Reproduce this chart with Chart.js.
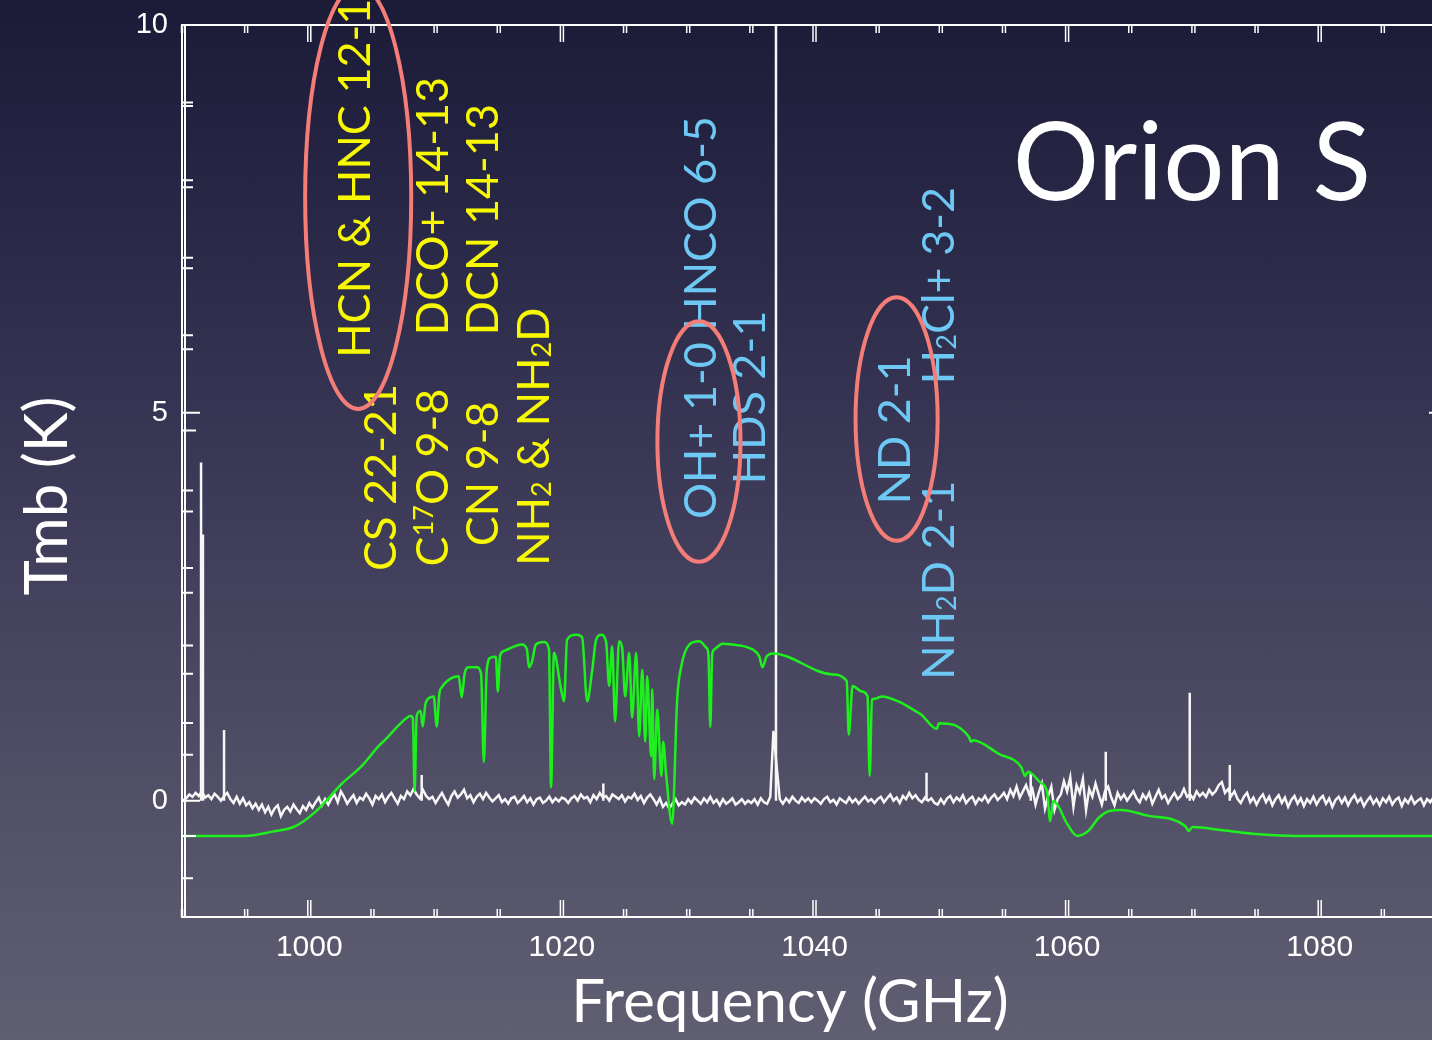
<!DOCTYPE html>
<html>
<head>
<meta charset="utf-8">
<script src="https://cdn.jsdelivr.net/npm/chart.js@4.4.1/dist/chart.umd.min.js"></script>
<style>
html, body {
    margin: 0; padding: 0; overflow: hidden;
    width: 1432px; height: 1040px;
    background: linear-gradient(180deg, #1b1a37 0%, #2b2a49 25%, #3e3c59 50%, #514f66 75%, #605e71 100%);
}
canvas { display: block; }
</style>
</head>
<body>
<canvas id="spec" width="1459" height="1040"></canvas>
<script>
// -----------------------------
// white spectrum (Tmb, K), channels of 0.25 GHz starting 989.75 GHz
// -----------------------------
const chanStart = 989.75;
const chanWidth = 0.25;
const specTmb = [
    0.02, 0.0, 0.03, 0.08, 0.05, 0.1, 0.06, 0.12, 0.04, 0.07, 0.02, 0.09, 0.05, 0.0, 0.06, 0.1, 0.02, -0.03, 0.05, -0.04,
    0.03, -0.06, -0.02, -0.1, -0.04, -0.12, -0.05, -0.15, -0.08, -0.18, -0.1, -0.06, -0.2, -0.12, -0.08, -0.14, -0.05, -0.11, -0.16, -0.07,
    -0.12, -0.03, -0.09, -0.02, 0.04, -0.06, 0.02, -0.05, 0.03, 0.08, -0.02, 0.12, 0.05, -0.04, 0.02, 0.07, -0.03, 0.04, 0.01, 0.09,
    0.03, -0.05, 0.06, 0.02, 0.08, -0.02, 0.05, 0.1, 0.03, -0.04, 0.06, 0.02, 0.12, 0.07, 0.15, 0.08, 0.03, 0.14, 0.06, 0.02,
    0.05, -0.03, 0.04, 0.1, 0.02, -0.05, 0.06, 0.12, 0.04, 0.08, 0.14, 0.03, 0.07, -0.02, 0.05, 0.09, 0.02, 0.1, 0.04, -0.01,
    0.03, 0.07, -0.02, 0.02, -0.04, 0.03, 0.05, -0.03, 0.01, 0.06, -0.02, 0.03, -0.05, 0.02, 0.04, -0.03, 0.0, 0.05, -0.02, 0.03,
    -0.01, 0.04, 0.02, -0.03, 0.03, 0.06, 0.0, 0.08, 0.03, 0.05, -0.02, 0.07, 0.02, 0.1, 0.04, 0.06, 0.0, 0.08, 0.05, 0.02,
    0.07, -0.01, 0.05, 0.03, 0.09, 0.01, 0.06, -0.03, 0.04, 0.08, 0.02, -0.05, 0.03, -0.08, -0.03, -0.1, -0.04, 0.02, -0.06, -0.02,
    -0.05, 0.02, -0.03, 0.04, 0.0, -0.04, 0.03, -0.02, 0.05, -0.03, 0.01, -0.06, 0.02, -0.04, -0.01, 0.03, -0.05, -0.02, 0.02, -0.04,
    0.0, -0.03, 0.02, -0.05, 0.03, -0.02, -0.04, 0.05, 0.9, 0.45, 0.02, -0.04, 0.03, -0.02, 0.05, 0.0, -0.03, 0.04, -0.01, 0.03,
    -0.02, 0.03, 0.0, -0.04, 0.02, 0.05, -0.02, 0.01, -0.05, 0.03, 0.0, -0.03, 0.04, -0.02, 0.02, -0.04, 0.01, 0.05, -0.01, 0.02,
    -0.03, 0.02, 0.05, -0.02, 0.03, 0.08, 0.0, 0.04, -0.03, 0.06, 0.02, 0.1, 0.03, 0.07, 0.01, -0.02, 0.04, 0.0, 0.03, -0.03,
    -0.05, 0.02, -0.04, 0.03, 0.06, -0.02, 0.04, 0.0, 0.07, -0.03, 0.02, 0.05, -0.04, 0.03, 0.0, 0.06, -0.02, 0.04, 0.08, 0.01,
    0.05, 0.1, 0.02, 0.14, 0.06, 0.18, 0.04, 0.12, 0.2, 0.08, 0.15, -0.05, 0.1, 0.22, -0.1, 0.06, 0.18, -0.12, 0.02, 0.08,
    0.25, 0.12, 0.3, -0.08, 0.2, 0.1, 0.28, -0.12, 0.15, 0.05, 0.22, 0.08, -0.05, 0.12, 0.18, 0.04, -0.06, 0.1, 0.02, 0.08,
    0.0, 0.06, 0.12, 0.03, -0.02, 0.08, 0.02, 0.1, -0.04, 0.05, 0.14, 0.03, 0.07, -0.03, 0.04, 0.1, 0.02, 0.06, 0.15, 0.05,
    0.08, 0.02, 0.12, 0.06, 0.1, 0.05, 0.14, 0.08, 0.12, 0.2, 0.24, 0.1, 0.15, 0.06, 0.12, 0.02, -0.03, 0.05, 0.1, -0.02,
    0.04, -0.05, 0.03, 0.08, -0.02, 0.05, -0.06, 0.02, 0.07, -0.03, 0.04, -0.08, 0.01, 0.06, -0.04, 0.03, -0.07, 0.02, -0.03, 0.05,
    -0.05, 0.02, 0.06, -0.04, 0.03, -0.08, 0.01, 0.05, -0.03, 0.04, -0.06, 0.02, 0.07, -0.02, 0.03, -0.07, 0.0, 0.05, -0.04, 0.02,
    -0.06, 0.03, -0.02, 0.05, -0.05, 0.01, 0.04, -0.07, 0.02, -0.03, 0.05, -0.04, 0.0, 0.03, -0.06, 0.02, -0.02, 0.04, -0.05, 0.01
];

// narrow emission lines (GHz / peak K)
const lineFreq = [991.43, 991.58, 993.25, 1008.9, 1023.28, 1036.95, 1048.87, 1057.12, 1063.06, 1069.71, 1072.88];
const linePeak = [4.36, 3.43, 0.91, 0.33, 0.22, 12, 0.36, 0.36, 0.63, 1.39, 0.46];

// -----------------------------
// atmospheric transmission (green)
// -----------------------------
const transFreq = [
    990, 994.93, 997.0, 998.9, 1000.5, 1001.5, 1002.55, 1004.14, 1005.5, 1006.04,
    1007.31, 1008.02, 1008.2, 1008.34, 1008.5, 1008.82, 1008.98, 1009.2, 1009.61, 1009.85,
    1010.09, 1010.3, 1010.48, 1011.83, 1012.07, 1012.3, 1012.63, 1013.26, 1013.6, 1013.82,
    1014.05, 1014.37, 1014.77, 1014.93, 1015.1, 1015.4, 1016.83, 1017.23, 1017.39, 1017.63,
    1017.94, 1018.58, 1018.98, 1019.14, 1019.37, 1019.93, 1020.17, 1020.41, 1021.12, 1021.6,
    1022.0, 1022.39, 1022.71, 1023.1, 1023.5, 1023.74, 1023.98, 1024.21, 1024.53, 1024.77,
    1025.01, 1025.33, 1025.56, 1025.88, 1026.12, 1026.36, 1026.6, 1026.75, 1027.07, 1027.15,
    1027.31, 1027.55, 1027.87, 1028.02, 1028.26, 1028.73, 1029.13, 1029.45, 1030.09, 1030.88,
    1031.44, 1031.6, 1031.75, 1031.9, 1032.07, 1032.71, 1033.5, 1035.09, 1035.64, 1035.88,
    1036.2, 1036.67, 1041.44, 1042.55, 1042.71, 1043.02, 1043.74, 1044.2, 1044.37, 1044.55,
    1044.77, 1045.33, 1046.75, 1048.1, 1048.42, 1049.69, 1049.85, 1052.23, 1052.39, 1052.55,
    1054.61, 1056.36, 1056.67, 1056.91, 1057.87, 1058.42, 1058.66, 1058.9, 1059.29, 1059.93,
    1060.8, 1061.67, 1062.55, 1063.42, 1064.29, 1066.36, 1069.37, 1069.61, 1069.93, 1072.31,
    1075.25, 1078.18, 1090
];
const transVal = [
    0, 0, 0.005, 0.012, 0.030, 0.046, 0.064, 0.086, 0.111, 0.119,
    0.140, 0.148, 0.145, 0.055, 0.148, 0.154, 0.135, 0.163, 0.171, 0.172,
    0.135, 0.176, 0.183, 0.197, 0.171, 0.200, 0.208, 0.208, 0.200, 0.091,
    0.205, 0.220, 0.221, 0.178, 0.222, 0.228, 0.236, 0.230, 0.208, 0.215,
    0.236, 0.239, 0.230, 0.060, 0.226, 0.181, 0.166, 0.242, 0.248, 0.245,
    0.166, 0.203, 0.242, 0.248, 0.239, 0.185, 0.234, 0.141, 0.240, 0.232,
    0.172, 0.226, 0.146, 0.226, 0.123, 0.205, 0.116, 0.197, 0.098, 0.181,
    0.070, 0.156, 0.074, 0.116, 0.074, 0.015, 0.169, 0.209, 0.236, 0.240,
    0.232, 0.224, 0.134, 0.224, 0.230, 0.237, 0.236, 0.230, 0.221, 0.208,
    0.221, 0.225, 0.199, 0.191, 0.125, 0.185, 0.178, 0.172, 0.074, 0.168,
    0.169, 0.172, 0.165, 0.153, 0.150, 0.132, 0.139, 0.122, 0.116, 0.118,
    0.101, 0.085, 0.074, 0.079, 0.066, 0.054, 0.018, 0.043, 0.037, 0.017,
    0.000, 0.006, 0.023, 0.031, 0.032, 0.025, 0.012, 0.006, 0.011, 0.007,
    0.002, 0, 0
];

// -----------------------------
// line identifications (anchor = start of the rotated text, GHz / K)
// -----------------------------
const yellowText = ["HCN & HNC 12-11", "CS 22-21", "C^17O 9-8", "DCO+ 14-13", "CN 9-8", "DCN 14-13", "NH_2 & NH_2D"];
const yellowFreq = [1003.55, 1005.61, 1009.73, 1009.73, 1013.69, 1013.69, 1017.73];
const yellowTmb  = [5.71, 2.96, 3.02, 6.0, 3.28, 6.0, 3.03];

const blueText = ["OH+ 1-0 HNCO 6-5", "HDS 2-1", "ND 2-1", "NH_2D 2-1", "H_2Cl+ 3-2"];
const blueFreq = [1030.89, 1034.77, 1046.26, 1049.75, 1049.75];
const blueTmb  = [3.63, 4.08, 3.82, 1.56, 5.37];

// circled lines: centre GHz / K, half widths GHz / K
const ringFreq = [1003.87, 1030.85, 1046.5];
const ringTmb  = [7.78, 4.63, 4.92];
const ringHalfFreq = [4.2, 3.29, 3.25];
const ringHalfTmb  = [2.73, 1.55, 1.57];

const sourceName = "Orion S";
const sourceFreq = 1055.69;
const sourceTmb = 7.75;

const xTitle = "Frequency (GHz)";
const yTitle = "Tmb (K)";

// -----------------------------
// datasets
// -----------------------------
const specPoints = specTmb.map((v, i) => ({ x: chanStart + i * chanWidth, y: v }));

const linePoints = [];
lineFreq.forEach((f, i) => {
    linePoints.push({ x: f, y: 0 });
    linePoints.push({ x: f, y: linePeak[i] });
    linePoints.push({ x: f, y: null });
});

const transPoints = transFreq.map((f, i) => ({ x: f, y: transVal[i] }));

// -----------------------------
// frame + inward ticks
// -----------------------------
const framePlugin = {
    id: "frame",
    afterDatasetsDraw(chart) {
        const { ctx, chartArea: a, scales } = chart;
        const x = scales.x, y = scales.y, y2 = scales.y2;
        ctx.save();
        ctx.strokeStyle = "#ffffff";
        ctx.lineWidth = 2;
        ctx.beginPath();
        ctx.moveTo(a.left - 2, a.top); ctx.lineTo(a.right, a.top);
        ctx.moveTo(a.left - 2, a.bottom); ctx.lineTo(a.right, a.bottom);
        ctx.moveTo(a.left - 1, a.top); ctx.lineTo(a.left - 1, a.bottom);
        ctx.moveTo(a.left + 2, a.top); ctx.lineTo(a.left + 2, a.bottom);
        ctx.moveTo(a.right, a.top); ctx.lineTo(a.right, a.bottom);
        ctx.stroke();

        // x ticks, bottom and top
        ctx.lineWidth = 1.5;
        ctx.beginPath();
        x.ticks.forEach(t => {
            const v = Math.round(t.value * 100) / 100;
            if (v % 5 !== 0) return;
            const px = x.getPixelForValue(v);
            const len = v % 20 === 0 ? 17 : 8;
            [-1.5, 1.5].forEach(dx => {
                ctx.moveTo(px + dx, a.bottom); ctx.lineTo(px + dx, a.bottom - len);
                ctx.moveTo(px + dx, a.top); ctx.lineTo(px + dx, a.top + len);
            });
        });
        ctx.stroke();

        // Tmb ticks
        ctx.lineWidth = 2;
        ctx.beginPath();
        y.ticks.forEach(t => {
            if (!Number.isInteger(t.value)) return;
            const py = y.getPixelForValue(t.value);
            const len = t.value % 5 === 0 ? 17 : 10;
            ctx.moveTo(a.left, py); ctx.lineTo(a.left + len, py);
            ctx.moveTo(a.right, py); ctx.lineTo(a.right - len, py);
        });
        // transmission ticks (every 0.1)
        for (let k = 0; k <= 10; k++) {
            const py = y2.getPixelForValue(k / 10);
            const len = k % 5 === 0 ? 13 : 10;
            ctx.moveTo(a.left, py); ctx.lineTo(a.left + len, py);
            ctx.moveTo(a.right, py); ctx.lineTo(a.right - len, py);
        }
        ctx.stroke();
        ctx.restore();
    }
};

// -----------------------------
// text with ^sup and _sub
// -----------------------------
function drawRich(ctx, text, size) {
    const parts = text.split(/(\^\d+|_\d+)/).filter(s => s.length);
    let cx = 0;
    parts.forEach(p => {
        let s = p, fs = size, dy = 0;
        if (p[0] === "^") { s = p.slice(1); fs = size * 0.6; dy = -size * 0.34; }
        else if (p[0] === "_") { s = p.slice(1); fs = size * 0.6; dy = size * 0.04; }
        ctx.font = fs + "px Lato";
        ctx.fillText(s, cx, dy);
        cx += ctx.measureText(s).width;
    });
}

const notePlugin = {
    id: "notes",
    afterDraw(chart) {
        const { ctx, scales } = chart;
        const x = scales.x, y = scales.y;
        const size = 45;
        const capH = size * 0.72;
        ctx.save();
        ctx.textAlign = "left";
        ctx.textBaseline = "alphabetic";

        const drawSet = (texts, freqs, tmbs, color) => {
            ctx.fillStyle = color;
            texts.forEach((t, i) => {
                ctx.save();
                ctx.translate(x.getPixelForValue(freqs[i]) + capH / 2, y.getPixelForValue(tmbs[i]));
                ctx.rotate(-Math.PI / 2);
                drawRich(ctx, t, size);
                ctx.restore();
            });
        };
        drawSet(yellowText, yellowFreq, yellowTmb, "#f8f800");
        drawSet(blueText, blueFreq, blueTmb, "#6ec8f4");

        // red rings
        ctx.strokeStyle = "#f47d78";
        ctx.lineWidth = 4;
        ringFreq.forEach((f, i) => {
            const cx = x.getPixelForValue(f);
            const cy = y.getPixelForValue(ringTmb[i]);
            const rx = Math.abs(x.getPixelForValue(f + ringHalfFreq[i]) - cx);
            const ry = Math.abs(y.getPixelForValue(ringTmb[i] + ringHalfTmb[i]) - cy);
            ctx.beginPath();
            ctx.ellipse(cx, cy, rx, ry, 0, 0, Math.PI * 2);
            ctx.stroke();
        });

        // source name
        ctx.fillStyle = "#ffffff";
        ctx.font = "108px Lato";
        ctx.fillText(sourceName, x.getPixelForValue(sourceFreq), y.getPixelForValue(sourceTmb));

        // axis titles
        ctx.font = "60px Lato";
        ctx.textAlign = "center";
        ctx.fillText(xTitle, 790, 1022);
        ctx.save();
        ctx.translate(67, 496);
        ctx.rotate(-Math.PI / 2);
        ctx.fillText(yTitle, 0, 0);
        ctx.restore();

        ctx.restore();
    }
};

// -----------------------------
// chart
// -----------------------------
new Chart(document.getElementById("spec"), {
    type: "line",
    data: {
        datasets: [
            {
                label: "transmission",
                data: transPoints,
                yAxisID: "y2",
                borderColor: "#1ef01e",
                borderWidth: 2.5,
                pointRadius: 0,
                cubicInterpolationMode: "monotone"
            },
            {
                label: "lines",
                data: linePoints,
                yAxisID: "y",
                borderColor: "#f6f6f6",
                borderWidth: 2.5,
                pointRadius: 0,
                spanGaps: false
            },
            {
                label: "Tmb",
                data: specPoints,
                yAxisID: "y",
                borderColor: "#f6f6f6",
                borderWidth: 2.5,
                pointRadius: 0,
                tension: 0
            }
        ]
    },
    options: {
        responsive: false,
        animation: false,
        devicePixelRatio: 1,
        layout: { padding: { top: 25, right: 0, left: 0, bottom: 0 } },
        plugins: {
            legend: { display: false },
            tooltip: { enabled: false }
        },
        scales: {
            x: {
                type: "linear",
                min: 990,
                max: 1090,
                grid: { display: false, drawTicks: false },
                border: { display: false },
                ticks: {
                    stepSize: 5,
                    autoSkip: false,
                    maxRotation: 0,
                    color: "#ffffff",
                    font: { family: "Liberation Sans", size: 30 },
                    padding: 13,
                    callback: v => (Math.round(v) % 20 === 0 ? String(Math.round(v)) : "")
                },
                afterFit: s => { s.height = 123; }
            },
            y: {
                min: -1.5,
                max: 10,
                grid: { display: false, drawTicks: false },
                border: { display: false },
                ticks: {
                    stepSize: 1,
                    autoSkip: false,
                    color: "#ffffff",
                    font: { family: "Liberation Sans", size: 29, lineHeight: 0.6 },
                    padding: 15,
                    callback: v => (Number.isInteger(v) && v % 5 === 0 ? String(v) : "")
                },
                afterFit: s => { s.width = 183; }
            },
            y2: {
                display: false,
                min: -0.1,
                max: 1.0
            }
        }
    },
    plugins: [framePlugin, notePlugin]
});
</script>
</body>
</html>
